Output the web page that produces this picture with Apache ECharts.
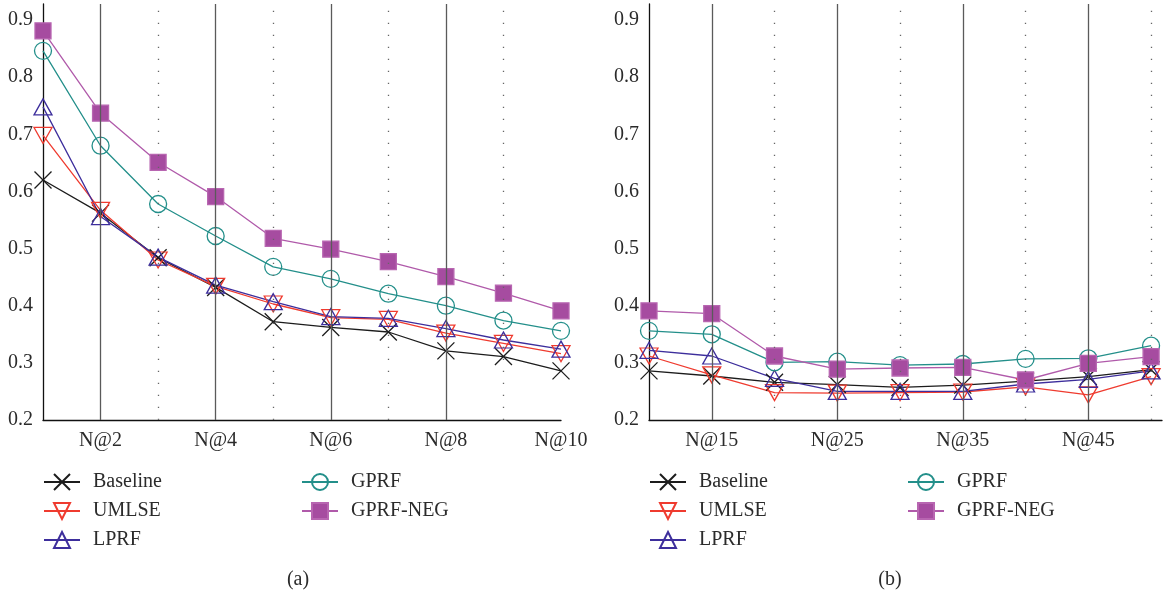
<!DOCTYPE html>
<html>
<head>
<meta charset="utf-8">
<script src="https://cdn.jsdelivr.net/npm/echarts@6/dist/echarts.min.js"></script>
<style>html,body{margin:0;padding:0;background:#fff}#c{width:1165px;height:593px}</style>
</head>
<body>
<div id="c"></div>
<script>
// ---- data ----
const seriesNames = ['Baseline', 'UMLSE', 'LPRF', 'GPRF', 'GPRF-NEG'];
// (a) N@1 .. N@10
const xLeft = [1, 2, 3, 4, 5, 6, 7, 8, 9, 10];
const leftBaseline = [0.620, 0.562, 0.484, 0.432, 0.372, 0.362, 0.354, 0.321, 0.311, 0.286];
const leftUMLSE    = [0.698, 0.567, 0.480, 0.434, 0.403, 0.379, 0.376, 0.352, 0.334, 0.316];
const leftLPRF     = [0.748, 0.556, 0.485, 0.436, 0.407, 0.381, 0.378, 0.360, 0.340, 0.324];
const leftGPRF     = [0.846, 0.680, 0.578, 0.522, 0.468, 0.447, 0.421, 0.400, 0.374, 0.356];
const leftGPRFNEG  = [0.881, 0.737, 0.651, 0.591, 0.518, 0.499, 0.477, 0.451, 0.422, 0.391];
// (b) N@10 .. N@50
const xRight = [10, 15, 20, 25, 30, 35, 40, 45, 50];
const rightBaseline = [0.286, 0.277, 0.266, 0.262, 0.257, 0.261, 0.268, 0.276, 0.288];
const rightUMLSE    = [0.312, 0.279, 0.248, 0.247, 0.248, 0.249, 0.258, 0.244, 0.276];
const rightLPRF     = [0.322, 0.312, 0.273, 0.250, 0.250, 0.250, 0.263, 0.271, 0.286];
const rightGPRF     = [0.356, 0.350, 0.301, 0.302, 0.296, 0.298, 0.307, 0.308, 0.330];
const rightGPRFNEG  = [0.391, 0.386, 0.312, 0.289, 0.291, 0.292, 0.270, 0.299, 0.311];
// tick labels & grid lines (axis values)
const leftLabelTicks = [2, 4, 6, 8, 10];
const rightLabelTicks = [15, 25, 35, 45];
const leftMajorLines = [2, 4, 6, 8];
const leftMinorLines = [3, 5, 7, 9];
const rightMajorLines = [15, 25, 35, 45];
const rightMinorLines = [20, 30, 40, 50];
const yTicks = [0.2, 0.3, 0.4, 0.5, 0.6, 0.7, 0.8, 0.9];
const captions = ['(a)', '(b)'];

// ---- styles ----
const FONT = '"Liberation Serif", "DejaVu Serif", serif';
const FS = 20;
const TXT = '#2b2b2b';
const styles = {
  'Baseline': {line: '#1c1c1c', symbol: 'path://M0,0L10,10M10,0L0,10', size: 17, fill: 'rgba(0,0,0,0)', border: '#1c1c1c'},
  'UMLSE':    {line: '#ef3b2f', symbol: 'path://M0,0L20,0L10,17.3Z', size: [18, 16], fill: 'rgba(0,0,0,0)', border: '#ef3b2f'},
  'LPRF':     {line: '#3d2e9c', symbol: 'path://M10,0L20,17.3L0,17.3Z', size: [18, 16], fill: 'rgba(0,0,0,0)', border: '#3d2e9c'},
  'GPRF':     {line: '#238f8a', symbol: 'circle', size: 17, fill: 'rgba(0,0,0,0)', border: '#238f8a'},
  'GPRF-NEG': {line: '#b05aaa', symbol: 'rect', size: 16, fill: '#a64ca0', border: '#b866b1'}
};

function mkSeries(name, xs, ys, idx) {
  const s = styles[name];
  return {
    name: name, type: 'line', xAxisIndex: idx, yAxisIndex: idx,
    data: xs.map((x, i) => [x, ys[i]]),
    symbol: s.symbol, symbolSize: s.size,
    lineStyle: {color: s.line, width: 1.3},
    itemStyle: {color: s.fill, borderColor: s.border, borderWidth: 1.3},
    z: 3
  };
}
function gridLines(idx, major, minor) {
  const d = [];
  major.forEach(v => d.push({xAxis: v, lineStyle: {type: 'solid', color: '#5a5a5a', width: 1.3}}));
  minor.forEach(v => d.push({xAxis: v, lineStyle: {type: [1.3, 10.7], color: '#666', width: 1.3}}));
  return {
    type: 'line', xAxisIndex: idx, yAxisIndex: idx, data: [], z: 1, silent: true,
    markLine: {silent: true, symbol: ['none', 'none'], label: {show: false}, animation: false, data: d}
  };
}
function yAxis(idx) {
  return {
    type: 'value', gridIndex: idx, min: 0.2, max: 0.928, interval: 0.1,
    axisLine: {show: true, onZero: false, lineStyle: {color: '#111', width: 1.3}},
    axisTick: {show: false}, splitLine: {show: false},
    axisLabel: {fontFamily: FONT, fontSize: FS, color: TXT, margin: 10,
      formatter: v => yTicks.some(t => Math.abs(t - v) < 1e-6) ? v.toFixed(1) : ''}
  };
}
function xAxis(idx, min, max, interval, labels) {
  return {
    type: 'value', gridIndex: idx, min: min, max: max, interval: interval,
    axisLine: {show: true, onZero: false, lineStyle: {color: '#111', width: 1.3}},
    axisTick: {show: false}, splitLine: {show: false},
    axisLabel: {fontFamily: FONT, fontSize: FS, color: TXT, margin: 11, showMinLabel: true, showMaxLabel: true,
      formatter: v => labels.some(t => Math.abs(t - v) < 1e-6) ? 'N@' + Math.round(v) : ''}
  };
}
function legend(left, names) {
  return {
    orient: 'vertical', left: left, top: 472, data: names, padding: 0,
    itemWidth: 36, itemHeight: 20, itemGap: 9, selectedMode: false,
    textStyle: {fontFamily: FONT, fontSize: FS, color: TXT, padding: [0, 0, 0, 8]}
  };
}

const series = [];
series.push(gridLines(0, leftMajorLines, leftMinorLines));
series.push(gridLines(1, rightMajorLines, rightMinorLines));
const lv = [leftBaseline, leftUMLSE, leftLPRF, leftGPRF, leftGPRFNEG];
const rv = [rightBaseline, rightUMLSE, rightLPRF, rightGPRF, rightGPRFNEG];
seriesNames.forEach((n, i) => series.push(mkSeries(n, xLeft, lv[i], 0)));
seriesNames.forEach((n, i) => series.push(mkSeries(n, xRight, rv[i], 1)));

const chart = echarts.init(document.getElementById('c'), null, {renderer: 'canvas'});
chart.setOption({
  animation: false,
  backgroundColor: '#fff',
  grid: [
    {left: 43, top: 4, width: 518, height: 416},
    {left: 649, top: 4, width: 516, height: 416}
  ],
  xAxis: [xAxis(0, 1, 10, 1, leftLabelTicks), xAxis(1, 10, 50.87, 5, rightLabelTicks)],
  yAxis: [yAxis(0), yAxis(1)],
  legend: [
    legend(43, seriesNames.slice(0, 3)),
    legend(301, seriesNames.slice(3)),
    legend(649, seriesNames.slice(0, 3)),
    legend(907, seriesNames.slice(3))
  ],
  graphic: [
    {type: 'text', x: 298, y: 580, style: {text: captions[0], font: FS + 'px ' + FONT, fill: TXT, align: 'center', verticalAlign: 'middle'}},
    {type: 'text', x: 890, y: 580, style: {text: captions[1], font: FS + 'px ' + FONT, fill: TXT, align: 'center', verticalAlign: 'middle'}}
  ],
  series: series
});
</script>
</body>
</html>
